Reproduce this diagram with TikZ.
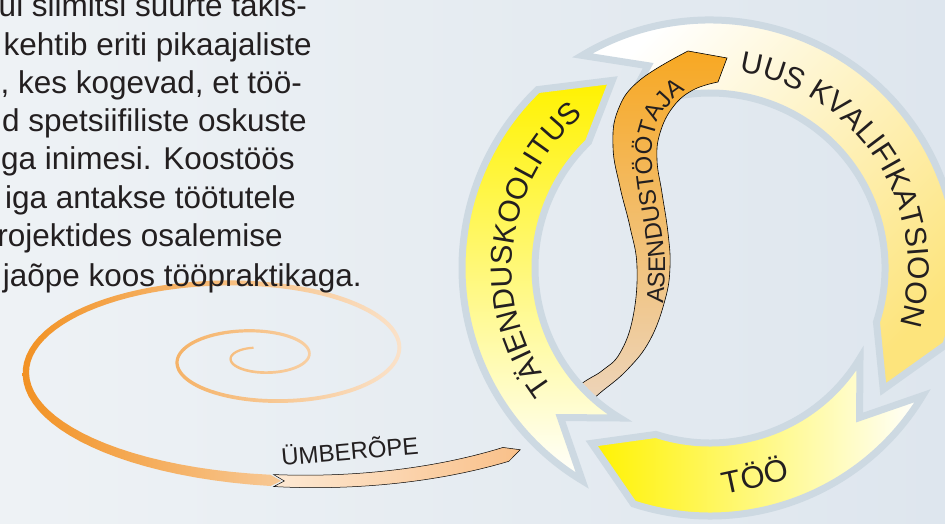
\documentclass[tikz,border=0pt]{standalone}
\usepackage{fontspec}
\setmainfont{Liberation Sans}
\usetikzlibrary{decorations.text}

\definecolor{txt}{HTML}{231F20}
\definecolor{bgleft}{HTML}{EEF2F5}
\definecolor{bgright}{HTML}{DEE6EE}
\definecolor{ringgrey}{HTML}{CDD9E2}
\definecolor{tyellow}{HTML}{FFF200}
\definecolor{uyellow}{HTML}{FDE47C}
\definecolor{sorange}{HTML}{F7A823}
\definecolor{sbeige}{HTML}{EDD5BC}
\definecolor{spdark}{HTML}{F29224}
\definecolor{splight}{HTML}{FAE2CA}
\definecolor{arleft}{HTML}{FDE9D4}
\definecolor{arright}{HTML}{F9C089}

\newcommand\ringfont{\fontsize{30}{30}\selectfont}
\newcommand\parfont{\fontsize{31.5}{38}\selectfont}

\begin{document}
\begin{tikzpicture}[
    x=1pt, y=1pt,
    every node/.style={text=txt, inner sep=0pt},
    parline/.style={anchor=base east, font=\parfont},
    band/.style={draw=ringgrey, line width=7pt, line join=miter},
    sband/.style={draw=black, line width=0.6pt, top color=sorange, bottom color=sbeige},
    arrowband/.style={draw=black, line width=0.5pt, line join=miter, left color=arleft, right color=arright},
    declare function={
        spR(\t)=29*exp(0.5188*(\t-180)/180);
        spN(\t)=sqrt(0.1681*cos(\t)*cos(\t)+sin(\t)*sin(\t));
        spW(\t)=2.2+2.5*(\t-106)/885+6.5*((\t-106)/885)^10;
        arW(\t)=12+3*(\t-992.6)/43;
        spX(\t,\s)=260+spR(\t)*cos(\t)+\s*spW(\t)/2*0.41*cos(\t)/spN(\t);
        spY(\t,\s)=167+0.41*spR(\t)*sin(\t)+\s*spW(\t)/2*sin(\t)/spN(\t);
        arX(\t,\s)=260+spR(\t)*cos(\t)+\s*arW(\t)/2*0.41*cos(\t)/spN(\t);
        arY(\t,\s)=167+0.41*spR(\t)*sin(\t)+\s*arW(\t)/2*sin(\t)/spN(\t);
    },
]
    \useasboundingbox (0,0) rectangle (945,524);
    \clip (0,0) rectangle (945,524);
    \shade[left color=bgleft, right color=bgright] (0,0) rectangle (945,524);

    % --- spiral ---
    \shade[left color=spdark, right color=splight]
        plot[domain=106:992, samples=240, variable=\a] ({spX(\a,1)}, {spY(\a,1)})
        -- ({spX(994,0)}, {spY(994,0)})
        -- plot[domain=992:106, samples=240, variable=\a] ({spX(\a,-1)}, {spY(\a,-1)})
        -- cycle;
    \shade[arrowband]
        plot[domain=992.6:1036, samples=30, variable=\a] ({arX(\a,1)}, {arY(\a,1)})
        -- ({arX(1039,0)}, {arY(1039,0)})
        -- plot[domain=1036:992.6, samples=30, variable=\a] ({arX(\a,-1)}, {arY(\a,-1)})
        -- ({arX(994.6,0)}, {arY(994.6,0)}) -- cycle;
    \node[anchor=base west, rotate=5, font=\fontsize{24}{24}\selectfont] (umberope) at (282,58) {ÜMBERÕPE};

    % --- text ---
    \node[parline] (par1) at (307,507) {ul silmitsi suurte takis-};
    \node[parline] (par2) at (312,468) {kehtib eriti pikaajaliste};
    \node[parline] (par3) at (302,430) {, kes kogevad, et töö-};
    \node[parline] (par4) at (307,392) {d spetsiifiliste oskuste};
    \node[parline] (par5) at (295,354) {ga inimesi. Koostöös};
    \node[parline] (par6) at (296,315) {iga antakse töötutele};
    \node[parline] (par7) at (283,277) {rojektides osalemise};
    \node[parline] (par8) at (362,237) {jaõpe koos tööpraktikaga.};

    % --- ring ---
    \begin{scope}[shift={(710,256)}]
        \shade[band, top color=white, bottom color=uyellow, shading angle=45]
            (121:248) arc[start angle=121, end angle=-18, radius=248] -- (-35:211.5)
            -- (-18:175) arc[start angle=-18, end angle=121, radius=175] -- (107:211.5) -- cycle;
        \shade[band, left color=tyellow, right color=white]
            (-31:248) arc[start angle=-31, end angle=-108, radius=248] -- (-124:211.5)
            -- (-108:175) arc[start angle=-108, end angle=-31, radius=175] -- (-45:211.5) -- cycle;
    \end{scope}

    % --- replacement worker ---
    \shade[sband]
        plot[smooth, tension=0.7] coordinates {(572,134) (587,144) (603,154) (620,171) (633,207) (637,257) (630,297) (620,337) (613,377) (618,414) (640,444) (688,473)}
        -- (727,466)
        -- plot[smooth, tension=0.7] coordinates {(718,442) (693,434) (673,417) (660,391) (657,364) (662,331) (668,291) (670,257) (665,224) (650,184) (627,154) (600,131) (585,118)}
        -- cycle;
    \path[decorate, decoration={text along path, text={|\color{txt}\fontsize{24}{24}\selectfont|ASENDUSTÖÖTAJA}}]
        plot[smooth] coordinates {(663,220) (665,264) (659,309) (653,346) (652,379) (660,407) (677,427) (705,444) (730,455)};

    \begin{scope}[shift={(710,256)}]
        \shade[band, top color=tyellow, middle color=tyellow!35!white, bottom color=white]
            (239:248) arc[start angle=239, end angle=134, radius=248] -- (117.5:211.5)
            -- (134:175) arc[start angle=134, end angle=239, radius=175] -- (225:211.5) -- cycle;

        % --- labels ---
        \path[decorate, decoration={text along path, text align=center, text={|\color{txt}\ringfont|TÄIENDUSKOOLITUS}}]
            (224:198) arc[start angle=224, end angle=123, radius=198];
        \path[decorate, decoration={text along path, text align=center, text={|\color{txt}\ringfont|UUS KVALIFIKATSIOON}}]
            (87.4:198) arc[start angle=87.4, end angle=-22.6, radius=198];
        \node[anchor=base, rotate=12.2, font=\fontsize{31}{31}\selectfont] (too) at (-77.8:224) {TÖÖ};
    \end{scope}

\end{tikzpicture}
\end{document}
